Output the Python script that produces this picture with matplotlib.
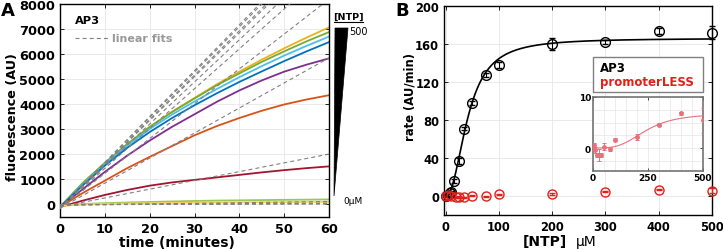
import numpy as np
import matplotlib.pyplot as plt
from matplotlib.patches import Polygon, Rectangle
from matplotlib.lines import Line2D

W, H = 723, 251

# ==== PANEL A DATA (fluorescence traces, AU) ====
t_min = [0, 5, 10, 15, 20, 25, 30, 35, 40, 45, 50, 55, 60]
trace_yellow = [-100, 850, 1650, 2400, 3100, 3700, 4250, 4800, 5300, 5780, 6230, 6660, 7070]
trace_green = [-100, 840, 1660, 2410, 3090, 3690, 4230, 4760, 5230, 5690, 6110, 6510, 6880]
trace_ltblue = [-100, 790, 1610, 2350, 3010, 3590, 4110, 4610, 5080, 5520, 5940, 6330, 6700]
trace_blue = [-100, 750, 1550, 2260, 2890, 3450, 3960, 4440, 4890, 5310, 5720, 6110, 6480]
trace_purple = [-100, 600, 1300, 1950, 2550, 3100, 3600, 4100, 4550, 4950, 5300, 5580, 5830]
trace_orange = [-100, 450, 950, 1450, 1900, 2330, 2760, 3130, 3450, 3740, 3990, 4190, 4360]
trace_darkred = [-100, 150, 380, 580, 750, 880, 980, 1080, 1180, 1280, 1370, 1450, 1520]
trace_low_green = [-60, 20, 50, 80, 100, 120, 140, 155, 165, 175, 185, 192, 200]
trace_low_yellow = [-60, 0, 20, 40, 50, 60, 70, 78, 84, 90, 95, 98, 100]

traces = [trace_yellow, trace_green, trace_ltblue, trace_blue, trace_purple,
          trace_orange, trace_darkred, trace_low_green, trace_low_yellow]
trace_colors = ['#EDB120', '#77AC30', '#4DBEEE', '#0072BD', '#7E2F8E',
                '#D95319', '#A2142F', '#9CC650', '#F2D060']

# linear fits: slope (AU/min) and offset (AU)
fit_slope = [183, 181, 177, 175, 168, 159, 139, 100, 35, 2.5, 1.2, 0.8, 0.3]
fit_offset = [-150, -150, -150, -150, -150, -150, -150, -150, -90, -30, -20, -10, 0]

# ==== PANEL B DATA (rate, AU/min) ====
ntp_ap3 = [0, 5, 7.5, 10, 15, 25, 35, 50, 75, 100, 200, 300, 400, 500]
rate_ap3 = [0, 1, 3, 4.5, 16, 36.5, 71, 98, 127, 138, 160, 162, 174, 172]
err_ap3 = [1, 1, 1, 1, 2, 3, 2, 2, 2, 3, 6, 2, 3, 7]

ntp_pl = [0, 5, 10, 20, 25, 35, 50, 75, 100, 200, 300, 400, 500]
rate_pl = [0.1, 0.6, -0.3, -1.4, -1.4, -1.4, 0.3, -0.2, 1.6, 2.1, 4.6, 6.8, 5.4]
err_pl = [0.4, 0.4, 0.6, 0.4, 1.2, 0.4, 0.6, 0.4, 0.3, 0.6, 0.3, 0.3, 2.5]

# Hill fits
HILL_AP3 = dict(vmax=166, k=42, n=2.2, base=0)
HILL_PL = dict(vmax=6.8, k=240, n=3.5, base=0)

RED = '#E0201B'
PINK = '#E8707A'


def hill(x, vmax, k, n, base):
    return base + vmax * x ** n / (k ** n + x ** n)


def box(l, t, r, b):
    return [l / W, 1 - b / H, (r - l) / W, (b - t) / H]


def fx(x):
    return x / W


def fy(y):
    return 1 - y / H


def style_axes(ax, lw=1.0, color='k'):
    for s in ax.spines.values():
        s.set_linewidth(lw)
        s.set_color(color)
    ax.tick_params(direction='in', length=3, width=0.6, top=True, right=True, colors='k')
    ax.grid(True, color='0.9', lw=0.6)
    ax.set_axisbelow(True)


fig = plt.figure(figsize=(W / 100, H / 100), dpi=100)

# ==== PANEL A ====
axA = fig.add_axes(box(60, 5, 329, 218))
tline = np.array([0, 60])
for s, o in zip(fit_slope, fit_offset):
    axA.plot(tline, s * tline + o, color='0.5', lw=0.8, dashes=(3.6, 2.8), zorder=3)
for tr, c in zip(traces, trace_colors):
    axA.plot(t_min, tr, color=c, lw=1.3, zorder=2)
axA.set_xlim(0, 60)
axA.set_ylim(-500, 8000)
axA.set_xticks(range(0, 61, 10))
axA.set_yticks(range(0, 8001, 1000))
style_axes(axA)
for lab in axA.get_xticklabels() + axA.get_yticklabels():
    lab.set_fontweight('bold')
    lab.set_fontsize(9.3)

fig.text(fx(177), fy(243), 'time (minutes)', ha='center', va='center', fontsize=10, fontweight='bold')
fig.text(fx(13), fy(117), 'fluorescence (AU)', ha='center', va='center', rotation=90,
         fontsize=9.2, fontweight='bold')
fig.text(fx(75), fy(21), 'AP3', ha='left', va='center', fontsize=8.2, fontweight='bold')
fig.add_artist(Line2D([fx(75), fx(108)], [fy(39), fy(39)], color='0.5', lw=0.8, dashes=(3.6, 2.8)))
fig.text(fx(112), fy(39), 'linear fits', ha='left', va='center', fontsize=8, fontweight='bold', color='0.6')

# NTP wedge
fig.add_artist(Polygon([(fx(335), fy(29)), (fx(348), fy(29)), (fx(334), fy(197))],
                       closed=True, facecolor='k', edgecolor='k', lw=0.5, transform=fig.transFigure))
fig.text(fx(348.5), fy(17), '[NTP]', ha='center', va='center', fontsize=6.8, fontweight='bold')
fig.add_artist(Line2D([fx(334), fx(363)], [fy(23), fy(23)], color='k', lw=0.8))
fig.text(fx(349), fy(32), '500', ha='left', va='center', fontsize=7)
fig.text(fx(343), fy(202), '0μM', ha='left', va='center', fontsize=6.5)
fig.text(fx(1), fy(11), 'A', ha='left', va='center', fontsize=13, fontweight='bold')

# ==== PANEL B ====
axB = fig.add_axes(box(444, 7, 712, 216))
xfit = np.linspace(0, 500, 400)
axB.plot(xfit, hill(xfit, **HILL_AP3), color='k', lw=1.2, zorder=3)
eb1 = axB.errorbar(ntp_ap3, rate_ap3, yerr=err_ap3, fmt='o', mfc='none', mec='k', ecolor='k',
                   ms=7, mew=1.0, capsize=2.5, elinewidth=0.8, capthick=0.8, zorder=4)
eb2 = axB.errorbar(ntp_pl, rate_pl, yerr=err_pl, fmt='o', mfc='none', mec=RED, ecolor=RED,
                   ms=6.5, mew=1.0, capsize=2.5, elinewidth=0.8, capthick=0.8, zorder=4)
for eb in (eb1, eb2):
    for art in eb.lines[:1] + tuple(eb.lines[1]) + tuple(eb.lines[2]):
        art.set_clip_on(False)
axB.set_xlim(-3, 500)
axB.set_ylim(-20, 200)
axB.set_xticks(range(0, 501, 100))
axB.set_yticks(range(0, 201, 40))
style_axes(axB)
for lab in axB.get_xticklabels() + axB.get_yticklabels():
    lab.set_fontweight('bold')
    lab.set_fontsize(8.3)

fig.text(fx(545), fy(242), '[NTP]', ha='center', va='center', fontsize=10, fontweight='bold')
fig.text(fx(576), fy(242), 'μM', ha='left', va='center', fontsize=10)
fig.text(fx(410), fy(97), 'rate (AU/min)', ha='center', va='center', rotation=90,
         fontsize=8.4, fontweight='bold')
fig.text(fx(395), fy(11), 'B', ha='left', va='center', fontsize=13, fontweight='bold')

# legend box
fig.add_artist(Rectangle((fx(593), fy(93)), (703 - 593) / W, 35 / H, transform=fig.transFigure,
                         facecolor='white', edgecolor='0.5', lw=1.0, zorder=5))
fig.text(fx(600), fy(68), 'AP3', ha='left', va='center', fontsize=8.5, fontweight='bold', zorder=6)
fig.text(fx(600), fy(82.5), 'promoterLESS', ha='left', va='center', fontsize=8.5,
         fontweight='bold', color=RED, zorder=6)

# inset
axI = fig.add_axes(box(593, 98, 703, 172))
axI.plot(xfit, hill(xfit, **HILL_PL), color=PINK, lw=0.8, zorder=3)
axI.errorbar(ntp_pl, rate_pl, yerr=err_pl, fmt='o', color=PINK, mec=PINK, mfc=PINK,
             ms=2.5, capsize=1.2, elinewidth=0.7, capthick=0.7, zorder=4)
axI.set_xlim(0, 500)
axI.set_ylim(-4.5, 10)
axI.set_xticks([0, 250, 500])
axI.set_yticks([0, 10])
axI.set_xticks(range(0, 501, 50), minor=True)
axI.set_yticks(np.arange(-2.5, 10, 2.5), minor=True)
for s in axI.spines.values():
    s.set_linewidth(1.2)
    s.set_color('0.45')
axI.tick_params(direction='in', length=2, width=0.5, top=True, right=True, pad=1.5)
axI.tick_params(which='minor', length=0)
axI.grid(True, which='both', color='0.9', lw=0.5)
axI.set_axisbelow(True)
for lab in axI.get_xticklabels() + axI.get_yticklabels():
    lab.set_fontweight('bold')
    lab.set_fontsize(6.5)

fig.savefig('out.png', dpi=100)
